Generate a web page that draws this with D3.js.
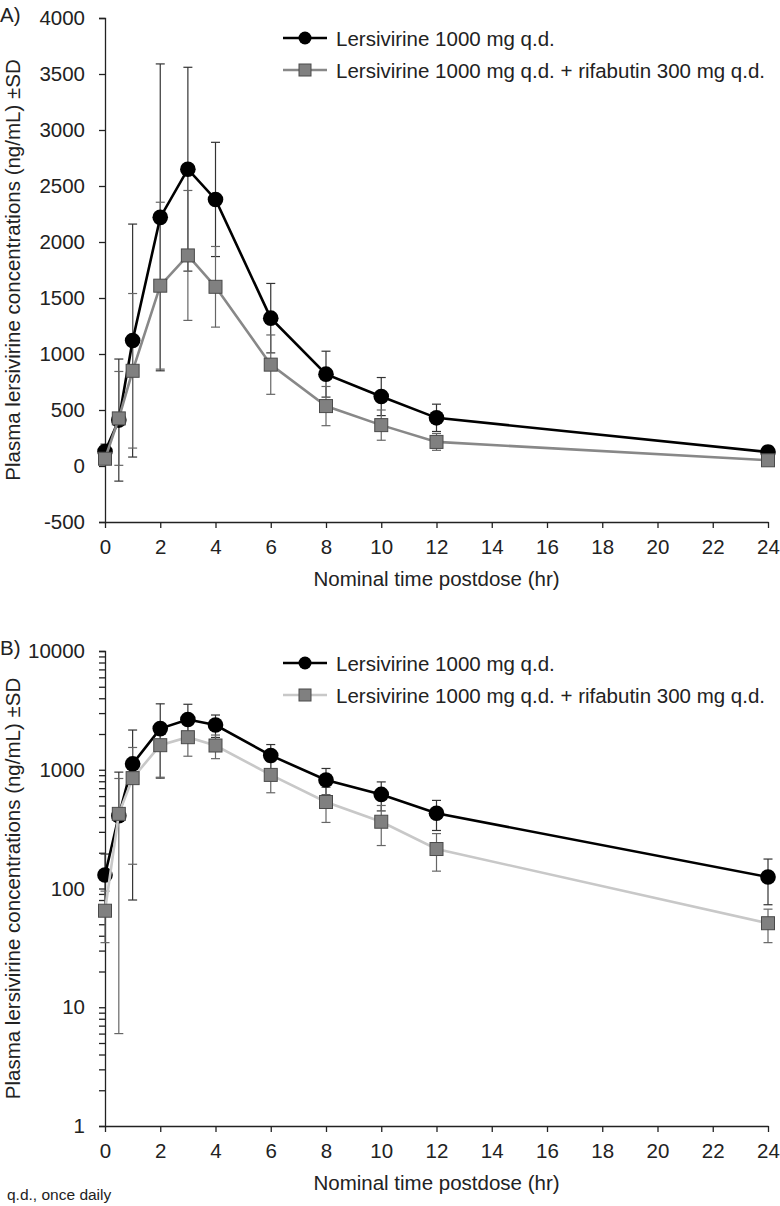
<!DOCTYPE html>
<html>
<head>
  <meta charset="utf-8">
  <script src="https://d3js.org/d3.v7.min.js"></script>
  <style>
    body { margin: 0; background: #fff; }
    svg { display: block; font-family: "Liberation Sans", Arial, sans-serif; }
    .axis path, .axis line { stroke: #222; stroke-width: 1.3; }
    .axis text { font-size: 20.5px; fill: #222; font-family: "Liberation Sans", Arial, sans-serif; }
  </style>
</head>
<body>
<script>
  "use strict";

  // nominal sampling times (hr)
  var times = [0, 0.5, 1, 2, 3, 4, 6, 8, 10, 12, 24];

  // Lersivirine 1000 mg q.d.
  var lersMean = [130, 410, 1120, 2220, 2650, 2380, 1320, 820, 620, 430, 125];
  var lersSD   = [65, 545, 1040, 1370, 910, 510, 310, 205, 170, 122, 52];

  // Lersivirine 1000 mg q.d. + rifabutin 300 mg q.d.
  var rifMean = [65, 425, 850, 1610, 1880, 1600, 905, 535, 365, 215, 51];
  var rifSD   = [30, 419, 690, 745, 580, 360, 265, 175, 135, 75, 16];

  var xTicks = [0, 2, 4, 6, 8, 10, 12, 14, 16, 18, 20, 22, 24];
  var linTicks = [-500, 0, 500, 1000, 1500, 2000, 2500, 3000, 3500, 4000];
  var logTicks = [1, 10, 100, 1000, 10000];
  var legendLabels = ["Lersivirine 1000 mg q.d.",
                      "Lersivirine 1000 mg q.d. + rifabutin 300 mg q.d."];

  var W = 780, H = 1206;
  var left = 105, right = 768;
  var fs = 20.5;

  var svg = d3.select("body").append("svg")
      .attr("width", W).attr("height", H);

  function rows(means, sds) {
    return times.map(function(t, i) { return { t: t, m: means[i], sd: sds[i] }; });
  }

  /*
    one panel: linear (A) or log (B)
  */
  function panel(opt) {
    var g = svg.append("g");
    var x = d3.scaleLinear().domain([0, 24]).range([left, right]);
    var y = opt.log
      ? d3.scaleLog().domain([1, 10000]).range([opt.bottom, opt.top])
      : d3.scaleLinear().domain([-500, 4000]).range([opt.bottom, opt.top]);

    // axes
    var xAxis = d3.axisBottom(x).tickValues(xTicks).tickSize(6).tickSizeOuter(0).tickPadding(11);
    g.append("g").attr("class", "axis")
      .attr("transform", "translate(0," + opt.bottom + ")").call(xAxis);

    var yAxis = d3.axisLeft(y).tickSizeOuter(0).tickSize(6).tickPadding(14);
    if (opt.log) {
      var minor = [];
      for (var d = 1; d < 10000; d *= 10)
        for (var k = 1; k < 10; k++) minor.push(d * k);
      minor.push(10000);
      yAxis.tickValues(minor).tickFormat(function(v) {
        return logTicks.indexOf(v) >= 0 ? d3.format("d")(v) : "";
      });
    } else {
      yAxis.tickValues(linTicks).tickFormat(d3.format("d"));
    }
    var ya = g.append("g").attr("class", "axis")
      .attr("transform", "translate(" + left + ",0)").call(yAxis);
    ya.selectAll("text").text(function(v) { return v < 0 ? "-" + Math.abs(v) : this.textContent; });

    // axis titles
    g.append("text")
      .attr("x", (left + right) / 2).attr("y", opt.bottom + 64)
      .attr("text-anchor", "middle").attr("font-size", fs).attr("fill", "#222")
      .text("Nominal time postdose (hr)");
    g.append("text")
      .attr("transform", "translate(20," + (opt.top + opt.bottom) / 2 + ") rotate(-90)")
      .attr("text-anchor", "middle").attr("font-size", fs).attr("fill", "#222")
      .text("Plasma lersivirine concentrations (ng/mL) \u00b1SD");
    g.append("text")
      .attr("x", 0).attr("y", opt.top + 4)
      .attr("font-size", fs).attr("fill", "#222")
      .text(opt.tag);

    var series = [
      { data: rows(lersMean, lersSD), line: "#000", bar: "#333", shape: "circle" },
      { data: rows(rifMean, rifSD), line: opt.log ? "#c8c8c8" : "#888", bar: "#666", shape: "square" }
    ];

    // error bars first
    series.forEach(function(s) {
      var eb = g.append("g").attr("stroke", s.bar).attr("stroke-width", 1.2);
      s.data.forEach(function(d) {
        var hi = d.m + d.sd, lo = d.m - d.sd;
        var cx = x(d.t);
        var yLo = (opt.log && lo <= 0) ? y(d.m) : y(lo);
        eb.append("line").attr("x1", cx).attr("x2", cx).attr("y1", y(hi)).attr("y2", yLo);
        eb.append("line").attr("x1", cx - 4.5).attr("x2", cx + 4.5).attr("y1", y(hi)).attr("y2", y(hi));
        if (!(opt.log && lo <= 0))
          eb.append("line").attr("x1", cx - 4.5).attr("x2", cx + 4.5).attr("y1", y(lo)).attr("y2", y(lo));
      });
    });

    // lines + markers
    var line = d3.line().x(function(d) { return x(d.t); }).y(function(d) { return y(d.m); });
    series.forEach(function(s) {
      g.append("path").datum(s.data)
        .attr("fill", "none").attr("stroke", s.line).attr("stroke-width", 2.6)
        .attr("d", line);
      if (s.shape === "circle") {
        g.selectAll(null).data(s.data).enter().append("circle")
          .attr("cx", function(d) { return x(d.t); })
          .attr("cy", function(d) { return y(d.m); })
          .attr("r", 7.8).attr("fill", "#000");
      } else {
        g.selectAll(null).data(s.data).enter().append("rect")
          .attr("x", function(d) { return x(d.t) - 6.5; })
          .attr("y", function(d) { return y(d.m) - 6.5; })
          .attr("width", 13).attr("height", 13)
          .attr("fill", "#808080").attr("stroke", "#4a4a4a").attr("stroke-width", 1);
      }
    });

    // legend
    var lg = g.append("g");
    [0, 1].forEach(function(i) {
      var ly = opt.legendY + i * 32;
      var s = series[i];
      lg.append("line").attr("x1", 283).attr("x2", 327).attr("y1", ly).attr("y2", ly)
        .attr("stroke", s.line).attr("stroke-width", 2.6);
      if (s.shape === "circle")
        lg.append("circle").attr("cx", 305).attr("cy", ly).attr("r", 6.5).attr("fill", "#000");
      else
        lg.append("rect").attr("x", 299).attr("y", ly - 6).attr("width", 12).attr("height", 12)
          .attr("fill", "#808080").attr("stroke", "#4a4a4a");
      lg.append("text").attr("x", 336).attr("y", ly + 7.5)
        .attr("font-size", fs).attr("fill", "#222").text(legendLabels[i]);
    });
  }

  panel({ top: 18, bottom: 522, log: false, legendY: 38, tag: "A)" });
  panel({ top: 651, bottom: 1126, log: true, legendY: 663, tag: "B)" });

  svg.append("text").attr("x", 7).attr("y", 1200)
    .attr("font-size", 15.5).attr("fill", "#222").text("q.d., once daily");
</script>
</body>
</html>
